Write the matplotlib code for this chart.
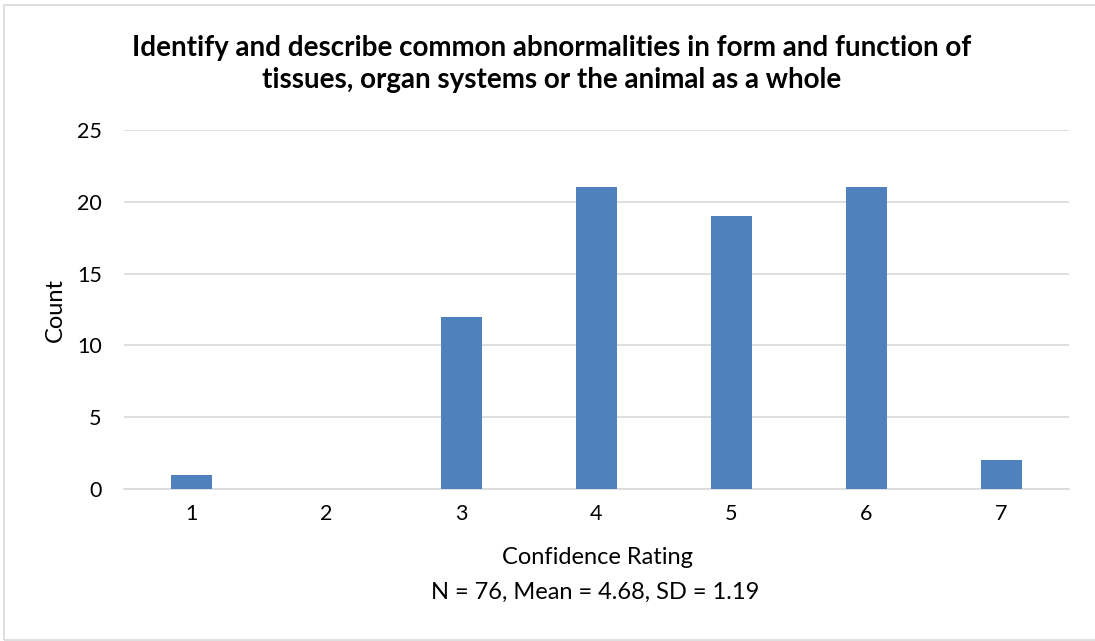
import matplotlib
matplotlib.use("Agg")
import matplotlib.pyplot as plt
from matplotlib.patches import Rectangle

# data
ratings = ["1", "2", "3", "4", "5", "6", "7"]
counts = [1, 0, 12, 21, 19, 21, 2]
title = "Identify and describe common abnormalities in form and function of\ntissues, organ systems or the animal as a whole"
xlabel = "Confidence Rating"
subnote = "N = 76, Mean = 4.68, SD = 1.19"

plt.rcParams['font.family'] = ['Lato', 'DejaVu Sans']

W, H = 1095, 641
fig = plt.figure(figsize=(W / 100, H / 100), dpi=100)
ax = fig.add_axes([124 / W, (H - 489) / H, (1069 - 124) / W, (489 - 130) / H])

x = range(len(ratings))
ax.bar(x, counts, width=0.31, color="#4F81BD", zorder=3)

ax.set_xlim(-0.5, len(ratings) - 0.5)
ax.set_ylim(0, 25)
ax.set_yticks([0, 5, 10, 15, 20, 25])
ax.set_xticks(list(x))
ax.set_xticklabels(ratings)
ax.yaxis.grid(True, color="#D9D9D9", linewidth=1.2, zorder=0)
for s in ["top", "right", "left"]:
    ax.spines[s].set_visible(False)
ax.spines["bottom"].set_color("#D9D9D9")
ax.spines["bottom"].set_linewidth(1.2)
ax.tick_params(axis="both", length=0, labelsize=15.5, colors="#000000")
ax.tick_params(axis="x", pad=11)
ax.tick_params(axis="y", pad=16)

fig.text(552 / W, 1 - 64 / H, title, ha="center", va="center",
         fontsize=20, fontweight="bold", linespacing=1.3)
fig.text(597 / W, 1 - 557 / H, xlabel, ha="center", va="center", fontsize=17)
fig.text(595 / W, 1 - 592 / H, subnote, ha="center", va="center", fontsize=17)
fig.text(55 / W, 1 - 310 / H, "Count", ha="center", va="center",
         fontsize=17, rotation=90)

# chart border
fig.patches.append(Rectangle((4 / W, 1 / H), 1.2, 1 - 6 / H, transform=fig.transFigure,
                             fill=False, edgecolor="#D9D9D9", linewidth=1.2))

fig.savefig("out.png", dpi=100)
